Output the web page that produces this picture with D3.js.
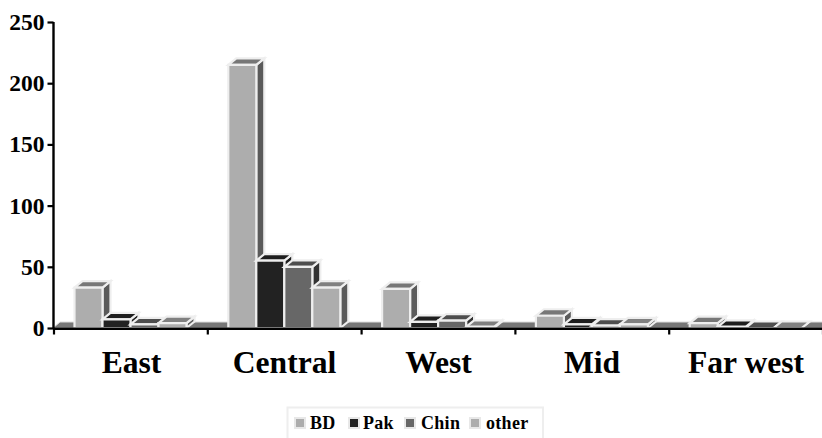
<!DOCTYPE html>
<html><head><meta charset="utf-8">
<script src="https://cdn.jsdelivr.net/npm/d3@7"></script>
<style>html,body{margin:0;padding:0;background:#fff;overflow:hidden}svg{display:block}
text{font-family:"Liberation Serif",serif;font-weight:bold;fill:#000}</style>
</head><body><div id="c"></div>
<script>
const categories=["East","Central","West","Mid","Far west"];
const seriesNames=["BD","Pak","Chin","other"];
const BD=[33,215,32,10,4];
const Pak=[7,55,5,3,1];
const Chin=[3,50,6,2,0];
const other=[4,33,1,3,0];
const yTicks=[0,50,100,150,200,250];
const seriesValues=[BD,Pak,Chin,other];
const front=["#adadad","#222222","#676767","#adadad"];
const top_=["#777777","#1e1e1e","#4e4e4e","#808080"];
const side=["#5a5a5a","#1e1e1e","#333333","#5a5a5a"];
const W=822,H=438,dx=8,dy=6.5,edge="#eeeeee";
const svg=d3.select("#c").append("svg").attr("width",W).attr("height",H);
const y=d3.scaleLinear().domain([0,250]).range([328,22]);
const xEdge=d3.scaleLinear().domain([0,5]).range([53.5,822.5]);
const xCat=d3.scaleBand().domain(categories).range([53.5,822.5]);
const xSer=d3.scaleBand().domain(seriesNames).range([21,133]);
// floor
svg.append("polygon").attr("fill","#777777").attr("stroke","#dddddd").attr("stroke-width",1)
  .attr("points",[[53,328],[60,322],[830,322],[830,328]].join(" "));
const g=svg.append("g");
categories.forEach((c,i)=>{
  seriesNames.forEach((s,k)=>{
    const v=seriesValues[k][i];
    const x0=xCat(c)+xSer(s),x1=x0+xSer.bandwidth(),yt=y(v),yb=y(0);
    const b=g.append("g").attr("stroke",edge).attr("stroke-width",2.2).attr("stroke-linejoin","miter");
    b.append("polygon").attr("fill",side[k])
      .attr("points",[[x1,yb],[x1+dx,yb-dy],[x1+dx,yt-dy],[x1,yt]].join(" "));
    b.append("polygon").attr("fill",top_[k])
      .attr("points",[[x0,yt],[x0+dx,yt-dy],[x1+dx,yt-dy],[x1,yt]].join(" "));
    b.append("polygon").attr("fill",front[k])
      .attr("points",[[x0,yb],[x0,yt],[x1,yt],[x1,yb]].join(" "));
  });
});
// axes
const ay=svg.append("g").attr("transform","translate(53.5,0)")
  .call(d3.axisLeft(y).tickValues(yTicks).tickSize(6).tickPadding(3));
ay.selectAll("text").style("font-size","23.5px");
const ax=svg.append("g").attr("transform","translate(0,328.5)")
  .call(d3.axisBottom(xEdge).ticks(5).tickSize(6).tickFormat(""));
[ay,ax].forEach(a=>{a.selectAll("path,line").attr("stroke","#000").attr("stroke-width",2.2);a.select(".domain").attr("d",null);});
svg.append("line").attr("x1",53.5).attr("x2",53.5).attr("y1",y(250)).attr("y2",y(0)+1).attr("stroke","#000").attr("stroke-width",2.4);
svg.append("line").attr("x1",53).attr("x2",822).attr("y1",328.7).attr("y2",328.7).attr("stroke","#000").attr("stroke-width",2.4);
svg.append("g").selectAll("text").data(categories).join("text")
  .attr("x",(d,i)=>[131.5,284.5,438.5,592,746][i]).attr("y",373)
  .attr("text-anchor","middle").style("font-size","31.6px").text(d=>d);
// legend
const lg=svg.append("g");
lg.append("path").attr("d","M287.5,438V407.5H543V438").attr("fill","none").attr("stroke","#eee").attr("stroke-width",2);
const lx=[295,349,405,470],tx=[310,363,421,486];
seriesNames.forEach((s,k)=>{
  lg.append("rect").attr("x",lx[k]).attr("y",418).attr("width",10).attr("height",10)
    .attr("fill",front[k]).attr("stroke","#e8e8e8").attr("stroke-width",2);
  lg.append("text").attr("x",tx[k]).attr("y",429).style("font-size","18px").style("letter-spacing","0.3px").text(s);
});
</script></body></html>
